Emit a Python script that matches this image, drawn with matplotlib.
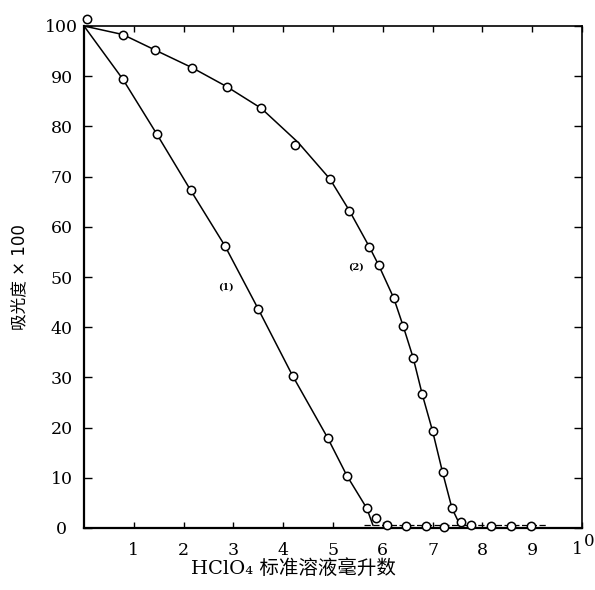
import matplotlib
matplotlib.use("Agg")
import matplotlib.pyplot as plt

# 曲线 (1): HClO4 毫升数 vs 吸光度x100
x1 = [0.07, 0.78, 1.46, 2.14, 2.83, 3.50, 4.19, 4.89, 5.28, 5.68, 5.86, 6.08, 6.47, 6.87, 7.23]
y1 = [101.3, 89.4, 78.5, 67.3, 56.2, 43.6, 30.3, 18.0, 10.4, 3.9, 1.9, 0.5, 0.4, 0.3, 0.1]
# 曲线 (2)
x2 = [0.78, 1.43, 2.17, 2.87, 3.56, 4.24, 4.94, 5.33, 5.73, 5.92, 6.22, 6.41, 6.61,
      6.79, 7.00, 7.20, 7.39, 7.57, 7.78, 8.17, 8.57, 8.97]
y2 = [98.3, 95.2, 91.7, 87.9, 83.6, 76.2, 69.5, 63.2, 56.0, 52.3, 45.8, 40.2, 33.9,
      26.7, 19.3, 11.1, 3.9, 1.2, 0.5, 0.4, 0.4, 0.3]

# drawn lines (hand-fitted in the original)
line1_x = [0.0, 0.78, 1.46, 2.14, 2.83, 3.50, 4.19, 4.89, 5.28, 5.68, 5.80]
line1_y = [100.0, 89.4, 78.5, 67.3, 56.2, 43.6, 30.3, 18.0, 10.4, 3.9, 0.6]
line2_x = [0.0, 0.78, 1.43, 2.17, 2.87, 3.56, 4.30, 4.94, 5.33, 5.73, 5.92, 6.22,
           6.41, 6.61, 6.79, 7.00, 7.20, 7.39, 7.55]
line2_y = [100.0, 98.3, 95.2, 91.7, 87.9, 83.6, 76.8, 69.5, 63.2, 56.0, 52.3, 45.8,
           40.2, 33.9, 26.7, 19.3, 11.1, 3.9, 0.6]
base_x = [5.62, 9.27]
base_y = [0.6, 0.6]

xticks = [1, 2, 3, 4, 5, 6, 7, 8, 9, 10]
xticklabels = ["1", "2", "3", "4", "5", "6", "7", "8", "9", ""]
yticks = [0, 10, 20, 30, 40, 50, 60, 70, 80, 90, 100]

fig = plt.figure(figsize=(5.95, 5.9), dpi=100)
ax = fig.add_axes([84 / 595, 62 / 590, 498 / 595, 502 / 590])

mk = dict(marker="o", ms=6, mfc="white", mec="black", mew=1.1, ls="none", zorder=3, clip_on=False)
ax.plot(line1_x, line1_y, color="black", lw=1.1)
ax.plot(line2_x, line2_y, color="black", lw=1.1)
ax.plot(base_x, base_y, color="black", lw=0.9, ls=(0, (5, 2)))
ax.plot(x1, y1, **mk)
ax.plot(x2, y2, **mk)

ax.text(2.7, 47.5, "(1)", fontsize=7, fontweight="bold", family="DejaVu Serif")
ax.text(5.3, 51.5, "(2)", fontsize=7, fontweight="bold", family="DejaVu Serif")

ax.set_xlim(0, 10)
ax.set_ylim(0, 100)
ax.set_xticks(xticks)
ax.set_xticklabels(xticklabels, family="DejaVu Serif", fontsize=12.5)
ax.set_yticks(yticks)
ax.set_yticklabels([str(v) for v in yticks], family="DejaVu Serif", fontsize=12.5, ha="center")
ax.tick_params(axis="x", direction="in", top=True, length=4, width=1, pad=10)
ax.tick_params(axis="y", direction="in", right=True, length=6, width=1, pad=16)
# label of 10 is printed as "1" with a raised "0" in the original
ax.annotate("1", xy=(10, 0), xytext=(-3, -15.5), textcoords="offset points",
            fontsize=12.5, family="DejaVu Serif", ha="center", va="center", annotation_clip=False)
ax.annotate("0", xy=(10, 0), xytext=(5.5, -9.5), textcoords="offset points",
            fontsize=12, family="DejaVu Serif", ha="center", va="center", annotation_clip=False)

for side in ["left", "bottom"]:
    ax.spines[side].set_linewidth(1.6)
for side in ["top", "right"]:
    ax.spines[side].set_linewidth(1.2)

ax.set_ylabel("吸光度 × 100", family=["DejaVu Sans", "Noto Sans CJK SC"], fontsize=12, labelpad=12)
ax.set_xlabel("HClO₄ 标准溶液毫升数", family=["DejaVu Serif", "Noto Sans CJK SC"], fontsize=14)
ax.xaxis.set_label_coords(0.42, -0.062)

fig.savefig("out.png", dpi=100)
